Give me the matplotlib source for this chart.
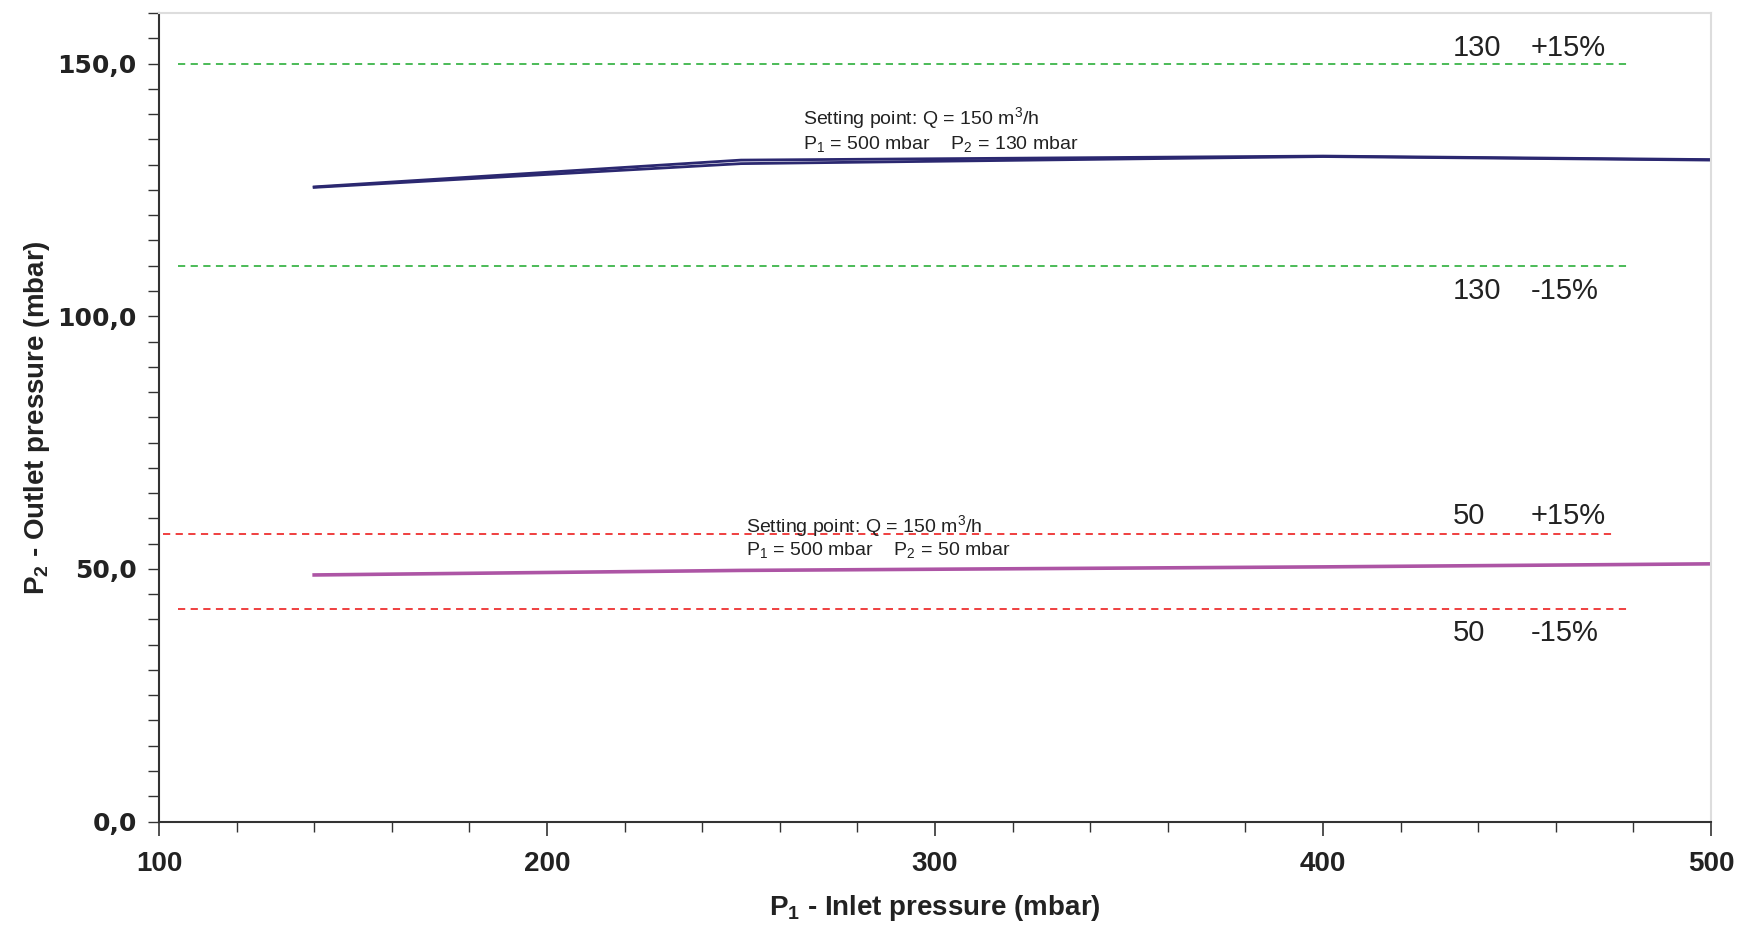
import matplotlib.pyplot as plt
import numpy as np
from matplotlib.ticker import MultipleLocator, FuncFormatter

SANS = ['Liberation Sans', 'DejaVu Sans']
plt.rcParams['mathtext.fontset'] = 'custom'
plt.rcParams['mathtext.rm'] = 'Liberation Sans'
plt.rcParams['mathtext.bf'] = 'Liberation Sans:bold'

# measured outlet pressure, setting 130 mbar (two runs, nearly identical)
p1_130 = [140, 250, 400, 500]
p2_130_a = [125.6, 130.9, 131.7, 131.0]
p2_130_b = [125.5, 130.2, 131.6, 130.9]

# measured outlet pressure, setting 50 mbar
p1_50 = [140, 250, 400, 500]
p2_50 = [48.8, 49.7, 50.4, 51.0]

# tolerance bands (+/-15 %) as drawn
band_130 = [150.0, 110.0]
band_50 = [57.0, 42.0]
band_130_x = [(105, 479), (105, 479)]
band_50_x = [(101, 475), (105, 479)]

BLUE = '#2b2870'
PURPLE = '#ad55a5'
GREEN = '#3db54a'
RED = '#ee3030'

fig = plt.figure(figsize=(17.41, 9.32), dpi=100)
ax = fig.add_axes([0.0913, 0.1185, 0.8915, 0.8675])

ax.set_xlim(100, 500)
ax.set_ylim(0, 160)

for y, (x0, x1) in zip(band_130, band_130_x):
    ax.plot([x0, x1], [y, y], color=GREEN, lw=1.3, dashes=(4, 3))
for y, (x0, x1) in zip(band_50, band_50_x):
    ax.plot([x0, x1], [y, y], color=RED, lw=1.3, dashes=(4, 3))

ax.plot(p1_130, p2_130_a, color=BLUE, lw=2.0)
ax.plot(p1_130, p2_130_b, color=BLUE, lw=2.0)
ax.plot(p1_50, p2_50, color=PURPLE, lw=2.6)

# band labels
lab = dict(fontsize=21, family=SANS, color='#222222', va='center')
ax.text(433.5, 153.1, '130', **lab)
ax.text(453.6, 153.1, '+15%', **lab)
ax.text(433.5, 104.9, '130', **lab)
ax.text(453.6, 104.9, '-15%', **lab)
ax.text(433.5, 60.4, '50', **lab)
ax.text(453.6, 60.4, '+15%', **lab)
ax.text(433.5, 37.3, '50', **lab)
ax.text(453.6, 37.3, '-15%', **lab)

# setting point notes
note = dict(fontsize=14, family=SANS, color='#222222', va='center')
ax.text(266, 139.0, r'Setting point: Q = 150 m$^3$/h', **note)
ax.text(266, 133.9, r'P$_1$ = 500 mbar    P$_2$ = 130 mbar', **note)
ax.text(251.3, 58.3, r'Setting point: Q = 150 m$^3$/h', **note)
ax.text(251.3, 53.5, r'P$_1$ = 500 mbar    P$_2$ = 50 mbar', **note)

# axes styling
for s in ['left', 'bottom']:
    ax.spines[s].set_color('#333333')
    ax.spines[s].set_linewidth(1.5)
for s in ['top', 'right']:
    ax.spines[s].set_color('#dddddd')
    ax.spines[s].set_linewidth(1.5)

ax.xaxis.set_major_locator(MultipleLocator(100))
ax.xaxis.set_minor_locator(MultipleLocator(20))
ax.yaxis.set_major_locator(MultipleLocator(50))
ax.yaxis.set_minor_locator(MultipleLocator(5))
ax.yaxis.set_major_formatter(FuncFormatter(lambda v, p: f'{v:.1f}'.replace('.', ',')))

ax.tick_params(axis='x', which='major', direction='out', length=10, width=1.2, color='#333333', pad=11)
ax.tick_params(axis='x', which='minor', direction='out', length=7, width=1.0, color='#333333')
ax.tick_params(axis='y', which='both', direction='out', length=8, width=1.0, color='#333333', pad=8)

for t in ax.get_xticklabels():
    t.set_fontfamily(SANS)
    t.set_fontweight('bold')
    t.set_fontsize(20)
    t.set_color('#222222')
for t in ax.get_yticklabels():
    t.set_fontfamily(['DejaVu Sans'])
    t.set_fontweight('bold')
    t.set_fontsize(18)
    t.set_color('#222222')

ax.set_xlabel(r'P$_\mathbf{1}$ - Inlet pressure (mbar)', fontsize=20, family=SANS,
              fontweight='bold', color='#222222', labelpad=12)
ax.set_ylabel(r'P$_\mathbf{2}$ - Outlet pressure (mbar)', fontsize=20, family=SANS,
              fontweight='bold', color='#222222')
ax.yaxis.set_label_coords(-0.069, 0.5)

fig.savefig('out.png', dpi=100)
